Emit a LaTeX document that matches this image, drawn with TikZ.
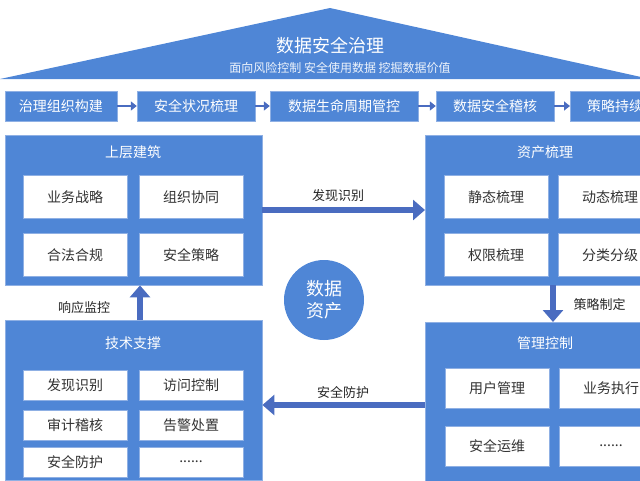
\documentclass[tikz,border=0pt]{standalone}
\usepackage{fontspec}
\setmainfont{Noto Sans CJK SC}
\usetikzlibrary{arrows.meta}
\definecolor{mainblue}{HTML}{4F86D6}
\definecolor{arrowblue}{HTML}{4A6CC0}
\definecolor{lineblue}{HTML}{8FB0E4}
\tikzset{
  panel/.style={fill=mainblue, draw=lineblue},
  stage/.style={fill=mainblue, draw=lineblue, text=white, font=\fontsize{14}{14}\selectfont},
  item/.style={fill=white, draw=lineblue, minimum width=104pt, font=\fontsize{14}{14}\selectfont, text=black!80},
  head/.style={text=white, font=\fontsize{14}{14}\selectfont},
  flow/.style={arrowblue, line width=6pt, -{Triangle[length=12pt,width=20pt]}},
  lbl/.style={font=\fontsize{13}{13}\selectfont, text=black!85}
}
\begin{document}
\begin{tikzpicture}[x=1pt,y=-1pt]
\useasboundingbox (0,0) rectangle (640,480);
% roof
\fill[mainblue] (0,79) -- (330,8) -- (650,79) -- cycle;
\node[text=white, font=\fontsize{18}{18}\selectfont] (title) at (330,46) {数据安全治理};
\node[text=white!90!mainblue, font=\fontsize{12}{12}\selectfont] (sub) at (340,68) {面向风险控制\ 安全使用数据\ 挖掘数据价值};
% process steps
\node[stage, minimum width=112pt, minimum height=30pt] (s1) at (61,106) {治理组织构建};
\node[stage, minimum width=118pt, minimum height=30pt] (s2) at (196,106) {安全状况梳理};
\node[stage, minimum width=148pt, minimum height=30pt] (s3) at (344,106) {数据生命周期管控};
\node[stage, minimum width=118pt, minimum height=30pt] (s4) at (495,106) {数据安全稽核};
\node[stage, minimum width=118pt, minimum height=30pt, anchor=west] (s5) at (570,106) {策略持续优化};
\foreach \a/\b in {s1/s2,s2/s3,s3/s4,s4/s5}
  \draw[arrowblue, line width=2.5pt, -{Triangle[length=6pt,width=9pt]}] (\a) -- (\b);
% panels
\node[panel, minimum width=257pt, minimum height=150pt, anchor=north west] (up) at (5,135) {};
\node[panel, minimum width=225pt, minimum height=150pt, anchor=north west] (res) at (425,135) {};
\node[panel, minimum width=257pt, minimum height=160pt, anchor=north west] (tech) at (5,320) {};
\node[panel, minimum width=225pt, minimum height=160pt, anchor=north west] (mgmt) at (425,322) {};
\node[head] (h1) at (133,152) {上层建筑};
\node[head] (h2) at (545,152) {资产梳理};
\node[head] (h3) at (133,343) {技术支撑};
\node[head] (h4) at (545,343) {管理控制};
% items
\node[item, minimum height=43pt] (a1) at (75,197) {业务战略};
\node[item, minimum height=43pt] (a2) at (191,197) {组织协同};
\node[item, minimum height=43pt] (a3) at (75,255) {合法合规};
\node[item, minimum height=43pt] (a4) at (191,255) {安全策略};
\node[item, minimum height=43pt] (b1) at (496,197) {静态梳理};
\node[item, minimum height=43pt] (b2) at (610,197) {动态梳理};
\node[item, minimum height=43pt] (b3) at (496,255) {权限梳理};
\node[item, minimum height=43pt] (b4) at (610,255) {分类分级};
\node[item, minimum height=30pt] (c1) at (75,385) {发现识别};
\node[item, minimum height=30pt] (c2) at (191,385) {访问控制};
\node[item, minimum height=30pt] (c3) at (75,425) {审计稽核};
\node[item, minimum height=30pt] (c4) at (191,425) {告警处置};
\node[item, minimum height=30pt] (c5) at (75,462) {安全防护};
\node[item, minimum height=30pt] (c6) at (191,462) {......};
\node[item, minimum height=40pt] (d1) at (497,388) {用户管理};
\node[item, minimum height=40pt] (d2) at (611,388) {业务执行};
\node[item, minimum height=40pt] (d3) at (497,446) {安全运维};
\node[item, minimum height=40pt] (d4) at (611,446) {......};
% center
\node[circle, fill=mainblue, minimum size=80pt, text=white, align=center,
  font=\fontsize{18}{22}\selectfont] (core) at (324,300) {数据\\资产};
% connectors
\draw[flow] (up.east |- 0,210) -- (res.west |- 0,210);
\node[lbl] (l1) at (338,196) {发现识别};
\draw[flow] (res.south -| 553,0) -- (mgmt.north -| 553,0);
\node[lbl, anchor=west] (l2) at (570,305) {策略制定};
\draw[flow] (mgmt.west |- 0,405) -- (tech.east |- 0,405);
\node[lbl] (l3) at (343,392) {安全防护};
\draw[flow] (tech.north -| 140,0) -- (up.south -| 140,0);
\node[lbl] (l4) at (84,308) {响应监控};
\end{tikzpicture}
\end{document}
